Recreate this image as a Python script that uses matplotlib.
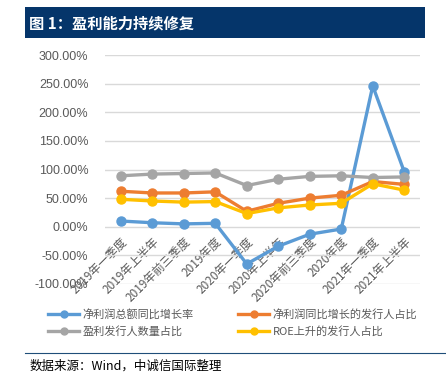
import matplotlib
matplotlib.use("Agg")
import matplotlib.pyplot as plt
from matplotlib.patches import Rectangle
from matplotlib.lines import Line2D
from matplotlib.ticker import FuncFormatter

plt.rcParams['font.family'] = ['Noto Sans CJK SC', 'DejaVu Sans']

categories = ["2019年一季度", "2019年上半年", "2019年前三季度", "2019年度", "2020年一季度",
              "2020年上半年", "2020年前三季度", "2020年度", "2021年一季度", "2021年上半年"]
profit_growth = [10, 7, 5, 6, -65, -34, -13, -4, 246, 96]
issuer_growth_share = [62, 59, 59, 61, 27, 41, 50, 55, 79, 74]
profitable_share = [89, 92, 93, 94, 72, 83, 88, 89, 86, 87]
roe_up_share = [48, 45, 43, 44, 23, 33, 38, 41, 75, 64]
series_names = ["净利润总额同比增长率", "净利润同比增长的发行人占比", "盈利发行人数量占比", "ROE上升的发行人占比"]
colors = ["#5B9BD5", "#ED7D31", "#A5A5A5", "#FFC000"]

fig = plt.figure(figsize=(4.46, 3.76), dpi=100)
W, H = 446, 376

# title bar
fig.patches.append(Rectangle((25 / W, 1 - 38 / H), 400 / W, 31 / H, transform=fig.transFigure,
                             facecolor="#05356A", edgecolor="none"))
fig.text(29 / W, 1 - 23 / H, "图 1：盈利能力持续修复", color="white", fontsize=11,
         fontweight="bold", va="center", ha="left")

ax = fig.add_axes([105 / W, 1 - 284 / H, 315 / W, 229 / H])
x = list(range(len(categories)))
data = [profit_growth, issuer_growth_share, profitable_share, roe_up_share]
order = [2, 1, 3, 0]
for i in order:
    ax.plot(x, [v / 100 for v in data[i]], color=colors[i], lw=2.4, marker="o", ms=6.5,
            label=series_names[i], zorder=3 + i)

ax.set_xlim(-0.5, 9.5)
ax.set_ylim(-1.0, 3.0)
ax.set_yticks([-1.0, -0.5, 0, 0.5, 1.0, 1.5, 2.0, 2.5, 3.0])
ax.yaxis.set_major_formatter(FuncFormatter(lambda v, p: f"{v*100:.2f}%"))
ax.grid(axis="y", color="#D9D9D9", lw=1)
ax.set_axisbelow(True)
ax.spines['bottom'].set_position(('data', 0))
for s in ax.spines.values():
    s.set_visible(False)
ax.tick_params(axis="y", length=0, labelsize=9, labelcolor="#595959", pad=12)
ax.tick_params(axis="x", length=0, labelsize=8.5, labelcolor="#595959", pad=6)
ax.set_xticks(x)
ax.set_xticklabels(categories, rotation=45, ha="right", rotation_mode="anchor")
for lbl in ax.get_yticklabels():
    lbl.set_family(["Liberation Sans", "DejaVu Sans"])

# legend: row 1 = series 0, 1 ; row 2 = series 2, 3 (column-wise fill)
leg_order = [0, 2, 1, 3]
handles = [Line2D([0], [0], color=colors[i], lw=2.4, marker="o", ms=5) for i in leg_order]
labels = [series_names[i] for i in leg_order]
leg = fig.legend(handles, labels, loc="center left", bbox_to_anchor=(38 / W, 1 - 323 / H),
                 ncol=2, frameon=False, fontsize=8, handlelength=2.8, columnspacing=4.0,
                 labelspacing=0.55, handletextpad=0.3)
for t in leg.get_texts():
    t.set_color("#595959")

fig.lines.append(Line2D([25 / W, 1.0], [1 - 353 / H, 1 - 353 / H], transform=fig.transFigure,
                        color="#1F4E79", lw=0.8))
fig.text(30 / W, 1 - 366 / H, "数据来源：Wind，中诚信国际整理", fontsize=9, va="center",
         ha="left", color="black", style="italic")

fig.savefig("out.png", dpi=100)
